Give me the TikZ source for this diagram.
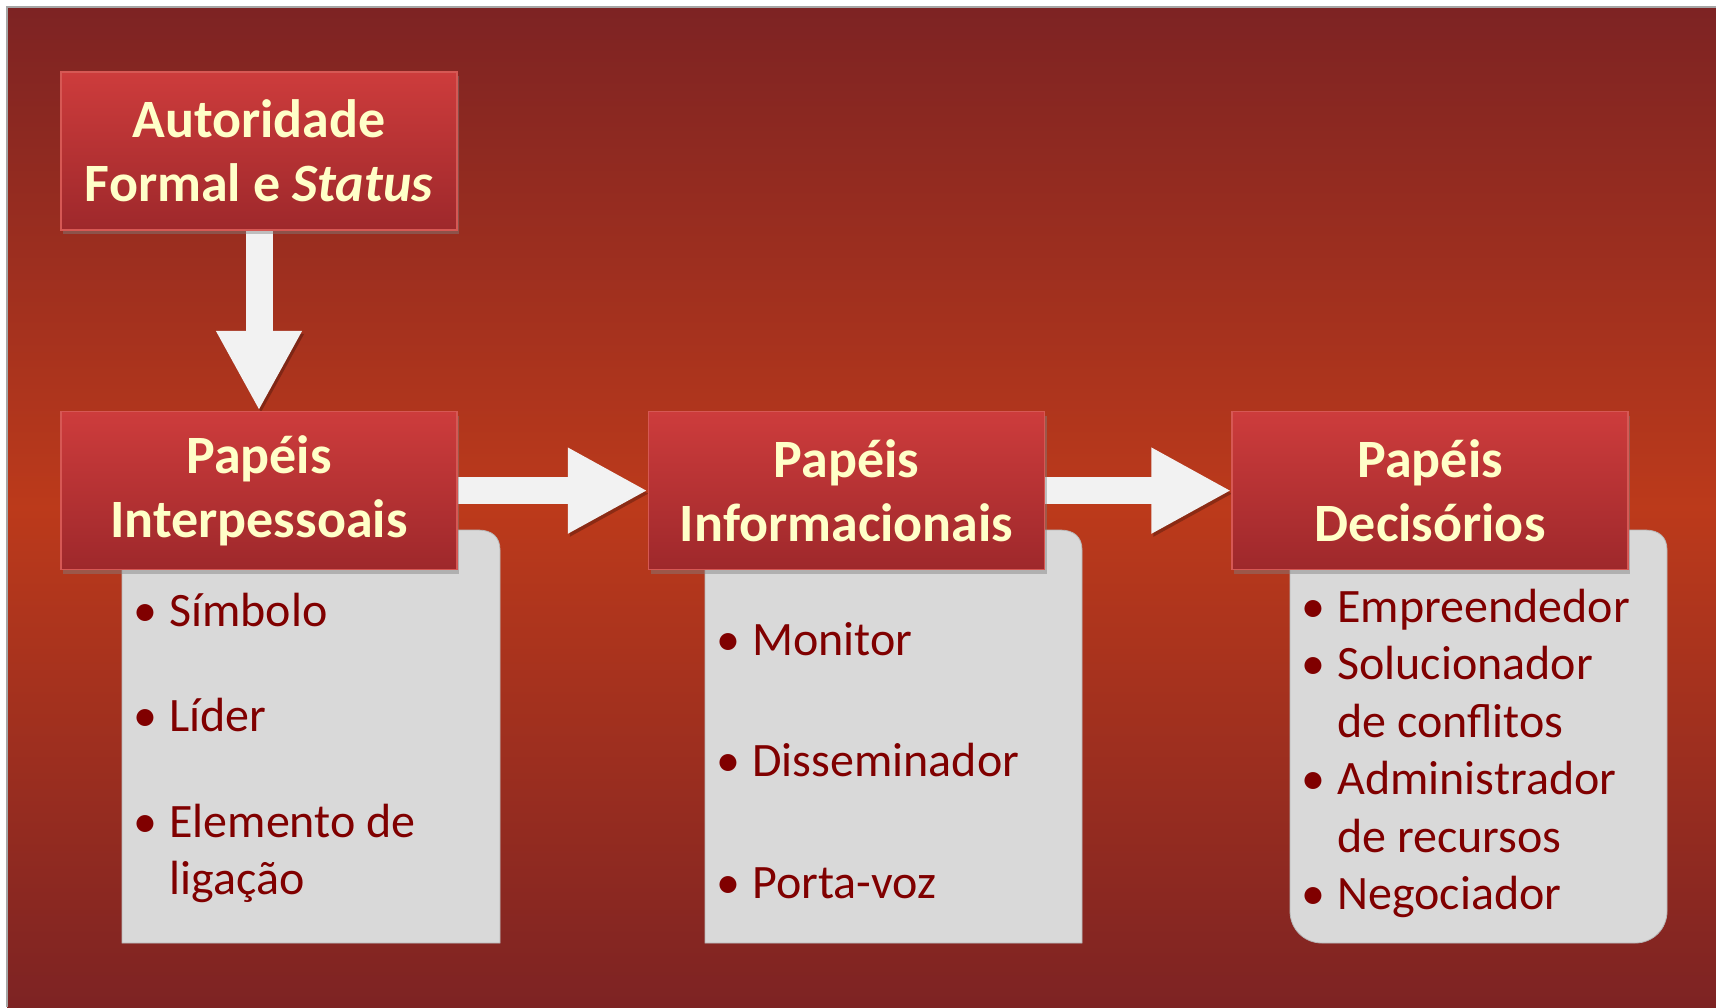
\documentclass[tikz,border=0pt]{standalone}
\usepackage{fontspec}
\setmainfont{Carlito}
\usetikzlibrary{positioning, arrows.meta, shadows, backgrounds}

\definecolor{bgdark}{RGB}{125,35,35}
\definecolor{bgmid}{RGB}{188,58,27}
\definecolor{headtop}{RGB}{205,60,60}
\definecolor{headbot}{RGB}{158,40,43}
\definecolor{headline}{RGB}{214,88,84}
\definecolor{headtext}{RGB}{255,255,200}
\definecolor{itemtext}{RGB}{128,0,0}
\definecolor{panelgray}{RGB}{217,217,217}
\definecolor{arrowwhite}{RGB}{242,242,242}

\tikzstyle{role} = [rectangle, draw=headline, line width=0.8pt, top color=headtop, bottom color=headbot,
    minimum width=198pt, minimum height=79pt, inner sep=0pt, align=center, text=headtext,
    font=\bfseries\fontsize{27}{32}\selectfont,
    drop shadow={shadow xshift=1pt, shadow yshift=-2pt, opacity=0.45}]
\tikzstyle{items} = [anchor=base west, inner sep=0pt, text=itemtext, font=\fontsize{24}{28.75}\selectfont]
\tikzstyle{flow} = [line width=13.5pt, draw=arrowwhite, -{Triangle[length=40pt, width=40pt]},
    preaction={draw=black, opacity=0.25, transform canvas={xshift=1pt, yshift=-1.5pt}}]
\tikzstyle{panel} = [fill=panelgray, draw=panelgray!85!black, line width=0.4pt]

\newcommand{\itm}{\makebox[18pt][l]{•}}
\newcommand{\cont}{\hspace*{18pt}}

\begin{document}
\begin{tikzpicture}[x=0.5pt, y=-0.5pt]
    \useasboundingbox (0,0) rectangle (1716,1007);

    % the four role boxes
    \node[role] (auth) at (259,151) {Autoridade\\Formal e \textit{Status}};
    \node[role, below=90pt of auth] (inter) {Papéis\\Interpessoais};
    \node[role, right=95pt of inter] (info) {Papéis\\Informacionais};
    \node[role, right=93pt of info] (decis) {Papéis\\Decisórios};

    % lists
    \node[items] (list1) at (133,626) {\begin{tabular}[t]{@{}l@{}}
        \itm Símbolo\\[24pt]
        \itm Líder\\[24pt]
        \itm Elemento de\\
        \cont ligação
    \end{tabular}};
    \node[items] (list2) at (716,655) {\begin{tabular}[t]{@{}l@{}}
        \itm Monitor\\[32pt]
        \itm Disseminador\\[32pt]
        \itm Porta-voz
    \end{tabular}};
    \node[items] (list3) at (1301,622) {\begin{tabular}[t]{@{}l@{}}
        \itm Empreendedor\\
        \itm Solucionador\\
        \cont de conflitos\\
        \itm Administrador\\
        \cont de recursos\\
        \itm Negociador
    \end{tabular}};

    \begin{scope}[on background layer]
        % backdrop
        \shade[top color=bgdark, bottom color=bgmid] (7,7) rectangle (1716,508);
        \shade[top color=bgmid, bottom color=bgdark] (7,507) rectangle (1716,1007);
        \draw[gray!70, line width=0.8pt] (7,1007) -- (7,7) -- (1716,7);

        % grey panels
        \path[panel] (122,943) -- (122,530) -- (478,530) .. controls (492,530) and (500,537) .. (500,550) -- (500,943) -- cycle;
        \path[panel] (705,943) -- (705,530) -- (1060,530) .. controls (1074,530) and (1082,537) .. (1082,550) -- (1082,943) -- cycle;
        \path[panel] (1290,911) -- (1290,530) -- (1645,530) .. controls (1659,530) and (1667,537) .. (1667,550)
            -- (1667,911) .. controls (1667,929) and (1653,943) .. (1635,943)
            -- (1322,943) .. controls (1304,943) and (1290,929) .. (1290,911) -- cycle;

        % arrows
        \draw[flow] (auth) -- (inter);
        \draw[flow] (inter) -- (info);
        \draw[flow] (info) -- (decis);
    \end{scope}
\end{tikzpicture}
\end{document}
